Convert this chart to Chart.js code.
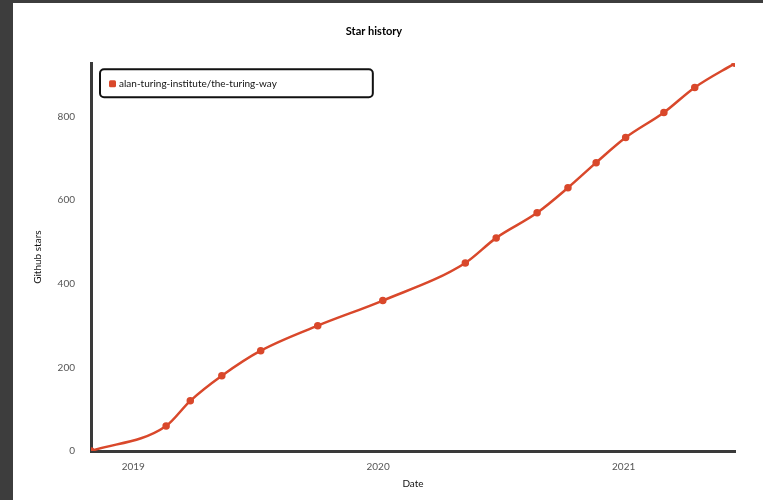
<!DOCTYPE html>
<html>
<head>
<meta charset="utf-8">
<script src="https://cdn.jsdelivr.net/npm/chart.js@4"></script>
<style>
  html, body { margin: 0; padding: 0; background: #3d3d3d; }
  #wrap { position: absolute; left: 13px; top: 3px; width: 750px; height: 497px; background: #ffffff; }
</style>
</head>
<body>
<div id="wrap"><canvas id="starChart"></canvas></div>
<script>
// data
const repoName = "alan-turing-institute/the-turing-way";
const dates = [
  "2018-10-30", "2019-02-19", "2019-03-27", "2019-05-13", "2019-07-10",
  "2019-10-03", "2020-01-08", "2020-05-10", "2020-06-25", "2020-08-25",
  "2020-10-10", "2020-11-21", "2021-01-04", "2021-03-02", "2021-04-17",
  "2021-06-16"
];
const stars = [0, 60, 120, 180, 240, 300, 360, 450, 510, 570, 630, 690, 750, 810, 870, 928];
const yearLabels = ["2019", "2020", "2021"];
const yTicks = [0, 200, 400, 600, 800];

const FONT = "Lato, 'DejaVu Sans', sans-serif";
const RED = "#d9482b";

// days since 2019-01-01
const base = Date.UTC(2019, 0, 1);
const toDays = (s) => {
  const [y, m, d] = s.split("-").map(Number);
  return (Date.UTC(y, m - 1, d) - base) / 86400000;
};
const xDays = dates.map(toDays);
const yearDays = yearLabels.map((y) => toDays(y + "-01-01"));

// legend box drawn inside the plot, like the original
const insideLegend = {
  id: "insideLegend",
  afterDraw(chart) {
    const ctx = chart.ctx;
    const area = chart.chartArea;
    const ds = chart.data.datasets[0];
    ctx.save();
    ctx.font = "10px " + FONT;
    const tw = ctx.measureText(ds.label).width;
    const x = area.left + 9, y = area.top + 6;
    const w = tw + 115, h = 28;
    ctx.beginPath();
    ctx.roundRect(x, y, w, h, 4);
    ctx.fillStyle = "#ffffff";
    ctx.fill();
    ctx.lineWidth = 2;
    ctx.strokeStyle = "#111111";
    ctx.stroke();
    ctx.fillStyle = ds.borderColor;
    ctx.beginPath();
    ctx.roundRect(x + 9, y + 11, 7, 7, 1.5);
    ctx.fill();
    ctx.fillStyle = "#111111";
    ctx.textBaseline = "middle";
    ctx.fillText(ds.label, x + 19, y + 15);
    ctx.restore();
  }
};

new Chart(document.getElementById("starChart"), {
  type: "line",
  data: {
    datasets: [
      {
        label: repoName,
        data: xDays.map((d, i) => ({ x: d, y: stars[i] })),
        borderColor: RED,
        backgroundColor: RED,
        borderWidth: 2.5,
        pointRadius: 2.5,
        pointHoverRadius: 2.5,
        cubicInterpolationMode: "monotone",
      },
    ],
  },
  options: {
    responsive: true,
    maintainAspectRatio: false,
    animation: false,
    layout: { padding: { left: 0, right: 28, top: 0, bottom: 0 } },
    plugins: {
      legend: { display: false },
      tooltip: { enabled: false },
      title: {
        display: true,
        text: "Star history",
        color: "#000000",
        font: { family: FONT, size: 11, weight: "bold" },
        padding: { top: 22, bottom: 25 },
      },
    },
    scales: {
      x: {
        type: "linear",
        min: xDays[0],
        max: xDays[xDays.length - 1],
        grid: { display: false },
        border: { display: true, width: 3, color: "#3a3a3a" },
        afterBuildTicks: (scale) => {
          scale.ticks = yearDays.map((v) => ({ value: v }));
        },
        afterFit: (scale) => { scale.height = 49; },
        ticks: {
          autoSkip: false,
          maxRotation: 0,
          padding: 2,
          color: "#555555",
          font: { family: FONT, size: 10 },
          callback: (v) => yearLabels[yearDays.indexOf(v)],
        },
        title: {
          display: true,
          text: "Date",
          color: "#111111",
          font: { family: FONT, size: 10 },
          padding: { top: 0, bottom: 10 },
        },
      },
      y: {
        min: 0,
        max: Math.max(...stars),
        grid: { display: false },
        border: { display: true, width: 3, color: "#3a3a3a" },
        afterBuildTicks: (scale) => {
          scale.ticks = yTicks.map((v) => ({ value: v }));
        },
        afterFit: (scale) => { scale.width = 78; },
        ticks: {
          padding: 8,
          color: "#555555",
          font: { family: FONT, size: 10 },
        },
        title: {
          display: true,
          text: "Github stars",
          color: "#111111",
          font: { family: FONT, size: 10 },
          padding: { top: 19, bottom: 0 },
        },
      },
    },
  },
  plugins: [insideLegend],
});
</script>
</body>
</html>
